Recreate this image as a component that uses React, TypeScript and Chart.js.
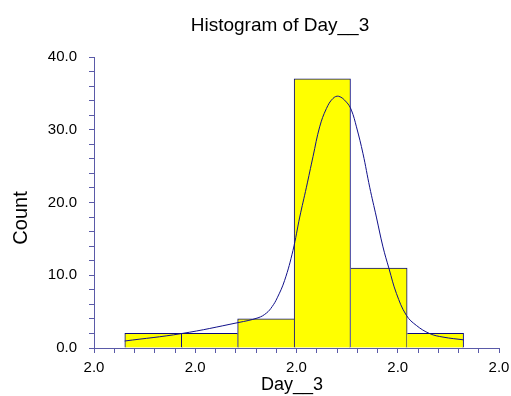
import React, { useEffect, useRef } from "react";
import { Chart, registerables } from "chart.js";

Chart.register(...registerables);

// Histogram bins on the index axis (0..4) and their counts
const binEdges = [0.303, 0.862, 1.419, 1.975, 2.535, 3.094, 3.65];
const binCounts = [2, 2, 4, 37, 11, 2];

// Fitted density curve, scaled to counts
const curveX = [
  0.303, 0.863, 1.422, 1.62, 1.703, 1.76, 1.81, 1.883, 1.965, 2.032,
  2.098, 2.163, 2.229, 2.295, 2.36, 2.417, 2.493, 2.542, 2.592, 2.657, 2.723,
  2.789, 2.854, 2.914, 2.987, 3.085, 3.184, 3.316, 3.447, 3.65,
];
const curveY = [
  0.96, 1.98, 3.49, 4.15, 4.8, 5.7, 6.9, 9.3, 13.4, 18.0, 22.1, 26.3,
  30.4, 32.9, 34.3, 34.6, 33.8, 32.7, 30.4, 26.7, 22.1, 18.0, 13.9, 10.9, 7.5,
  4.5, 3.1, 1.98, 1.5, 1.12,
];

const xTickLabels = ["2.0", "2.0", "2.0", "2.0", "2.0"];
const yMax = 40;

const titleText = "Histogram of Day__3";
const xTitle = "Day__3";
const yTitle = "Count";

const AXIS_COLOR = "#5a5aa8";
const FONT = "'Liberation Sans', Arial, sans-serif";

const textPlugin = {
  id: "histTexts",
  afterDraw(chart: any) {
    const { ctx, chartArea } = chart;
    ctx.save();
    ctx.fillStyle = "#000";
    ctx.textAlign = "center";
    ctx.textBaseline = "alphabetic";
    ctx.font = `19px ${FONT}`;
    ctx.fillText(titleText, chartArea.left + 186, chartArea.top - 26);
    ctx.font = `18px ${FONT}`;
    ctx.fillText(xTitle, chartArea.left + 198, chartArea.bottom + 42);
    ctx.translate(27, chartArea.top + 161);
    ctx.rotate(-Math.PI / 2);
    ctx.font = `20px ${FONT}`;
    ctx.fillText(yTitle, 0, 0);
    ctx.restore();
  },
};

export default function App() {
  const canvasRef = useRef<HTMLCanvasElement | null>(null);

  useEffect(() => {
    document.body.style.margin = "0";
    const canvas = canvasRef.current;
    if (!canvas) return;

    const barData = binCounts.map((c, i) => ({
      x: (binEdges[i] + binEdges[i + 1]) / 2,
      y: c,
    }));
    const lineData = curveX.map((x, i) => ({ x, y: curveY[i] }));
    const last = binCounts.length - 1;

    const chart = new Chart(canvas, {
      type: "bar",
      data: {
        datasets: [
          {
            type: "line",
            data: lineData,
            borderColor: "#10108a",
            borderWidth: 1,
            pointRadius: 0,
            tension: 0.4,
            fill: false,
            order: 0,
          } as any,
          {
            type: "bar",
            xAxisID: "xb",
            data: barData,
            backgroundColor: "#ffff00",
            borderColor: "#0a0a80",
            borderSkipped: "bottom",
            borderWidth: (ctx: any) => {
              const i = ctx.dataIndex;
              const c = binCounts[i];
              return {
                top: 1,
                bottom: 0,
                left: i === 0 || c >= binCounts[i - 1] ? 1 : 0,
                right: i === last || c > binCounts[i + 1] ? 1 : 0,
              };
            },
            barPercentage: 1,
            categoryPercentage: 1,
            order: 1,
          } as any,
        ],
      },
      options: {
        animation: false,
        responsive: false,
        events: [],
        layout: {
          autoPadding: false,
          padding: { top: 57, right: 12, bottom: 0, left: 0 },
        },
        plugins: {
          legend: { display: false },
          title: { display: false },
          tooltip: { enabled: false },
        },
        scales: {
          // hidden twin of the x axis so bar widths follow the bin spacing
          xb: {
            type: "linear",
            position: "bottom",
            min: 0,
            max: 4,
            offset: false,
            display: false,
            ticks: { stepSize: 4 },
            grid: { offset: false },
            afterFit: (s: any) => {
              s.height = 0;
              s.paddingLeft = 0;
              s.paddingRight = 0;
            },
          },
          x: {
            type: "linear",
            min: 0,
            max: 4,
            offset: false,
            z: 1,
            border: { display: true, color: AXIS_COLOR, width: 1 },
            grid: {
              display: true,
              drawOnChartArea: false,
              drawTicks: true,
              tickLength: 5,
              color: AXIS_COLOR,
              offset: false,
            },
            ticks: {
              stepSize: 0.2,
              autoSkip: false,
              maxRotation: 0,
              minRotation: 0,
              padding: 6,
              color: "#000",
              font: { family: FONT, size: 15 },
              callback: (v: any) => {
                const n = Number(v);
                const r = Math.round(n);
                return Math.abs(n - r) < 1e-6 ? xTickLabels[r] : "";
              },
            },
            afterFit: (s: any) => {
              s.height = 48;
              s.paddingLeft = 0;
              s.paddingRight = 0;
            },
          },
          y: {
            min: 0,
            max: yMax,
            z: 1,
            border: { display: true, color: AXIS_COLOR, width: 1 },
            grid: {
              display: true,
              drawOnChartArea: false,
              drawTicks: true,
              tickLength: 5,
              color: AXIS_COLOR,
            },
            ticks: {
              stepSize: 2,
              autoSkip: false,
              padding: 12,
              color: "#000",
              font: { family: FONT, size: 15 },
              callback: (v: any) => {
                const n = Number(v);
                return Math.abs(n / 10 - Math.round(n / 10)) < 1e-6
                  ? n.toFixed(1)
                  : "";
              },
            },
            afterFit: (s: any) => {
              s.width = 94;
              s.paddingTop = 0;
              s.paddingBottom = 0;
            },
          },
        },
      },
      plugins: [textPlugin],
    });

    return () => chart.destroy();
  }, []);

  return (
    <div style={{ width: 511, height: 396, background: "#fff" }}>
      <canvas ref={canvasRef} width={511} height={396} />
    </div>
  );
}
